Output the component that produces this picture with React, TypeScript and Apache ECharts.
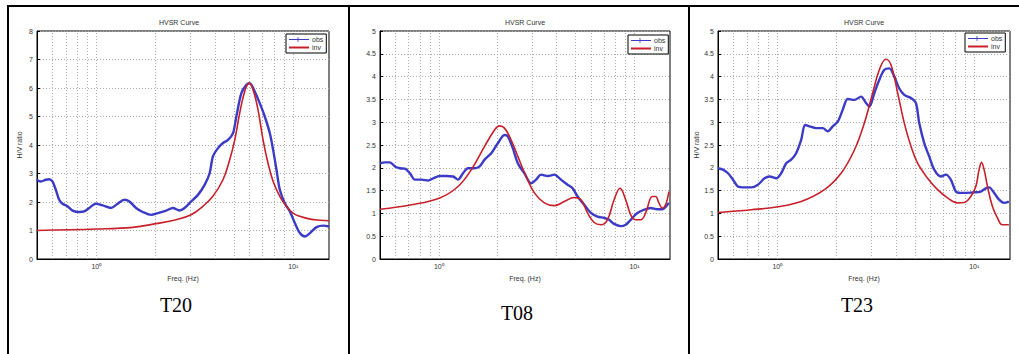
import React, { useEffect, useRef } from "react";
import * as echarts from "echarts";

// ---------- Data (frequency in Hz, H/V ratio) ----------
const T20_OBS_FREQ = [0.497, 0.523, 0.554, 0.576, 0.599, 0.623, 0.648, 0.674, 0.714, 0.758, 0.819, 0.869, 0.921, 0.996, 1.077, 1.188, 1.284, 1.389, 1.473, 1.592, 1.722, 1.898, 2.053, 2.263, 2.447, 2.647, 2.806, 3.035, 3.283, 3.55, 3.764, 3.913, 4.15, 4.401, 4.667, 4.949, 5.145, 5.456, 5.785, 6.017, 6.377, 6.763, 7.172, 7.605, 7.91, 8.225, 8.553, 9.07, 9.616, 10.2, 10.81, 11.47, 12.16, 13.15, 14.22, 15.2];
const T20_OBS_HV = [2.78, 2.72, 2.78, 2.8, 2.72, 2.43, 2.08, 1.94, 1.85, 1.7, 1.65, 1.67, 1.79, 1.94, 1.88, 1.79, 1.94, 2.08, 2.02, 1.79, 1.65, 1.55, 1.61, 1.7, 1.79, 1.7, 1.79, 2.02, 2.25, 2.6, 3.01, 3.6, 3.89, 4.07, 4.18, 4.42, 5.0, 5.82, 6.11, 6.17, 5.88, 5.47, 5.0, 4.42, 3.83, 3.13, 2.43, 1.96, 1.67, 1.26, 0.91, 0.79, 0.91, 1.12, 1.17, 1.14];
const T20_INV_FREQ = [0.5, 1.0, 1.53, 2.01, 2.55, 3.03, 3.48, 3.91, 4.4, 4.76, 5.05, 5.35, 5.67, 5.97, 6.26, 6.63, 7.03, 7.45, 7.91, 8.55, 9.23, 9.98, 10.8, 12.2, 13.7, 15.2];
const T20_INV_HV = [1.0, 1.05, 1.11, 1.24, 1.38, 1.55, 1.85, 2.2, 2.78, 3.48, 4.18, 5.12, 5.88, 6.17, 5.93, 5.23, 4.18, 3.36, 2.72, 2.2, 1.85, 1.61, 1.5, 1.4, 1.36, 1.34];

const T08_OBS_FREQ = [0.5, 0.53, 0.562, 0.596, 0.632, 0.67, 0.711, 0.754, 0.815, 0.882, 0.935, 1.011, 1.093, 1.182, 1.253, 1.329, 1.409, 1.524, 1.616, 1.713, 1.853, 2.003, 2.166, 2.253, 2.388, 2.533, 2.738, 2.961, 3.141, 3.33, 3.601, 3.894, 4.21, 4.553, 4.828, 5.121, 5.537, 5.985, 6.474, 6.998, 7.42, 7.87, 8.51, 9.02, 9.57, 10.35, 11.19, 12.1, 13.08, 13.87, 15.0];
const T08_OBS_HV = [2.1, 2.12, 2.12, 2.03, 1.99, 1.98, 1.88, 1.74, 1.74, 1.72, 1.77, 1.82, 1.82, 1.81, 1.74, 1.88, 1.99, 1.99, 2.03, 2.18, 2.32, 2.54, 2.72, 2.69, 2.43, 2.1, 1.88, 1.66, 1.74, 1.85, 1.82, 1.85, 1.74, 1.63, 1.55, 1.37, 1.19, 1.01, 0.93, 0.9, 0.86, 0.77, 0.72, 0.75, 0.86, 1.01, 1.08, 1.12, 1.09, 1.09, 1.23];
const T08_INV_FREQ = [0.5, 0.725, 1.011, 1.253, 1.466, 1.713, 1.926, 2.042, 2.166, 2.342, 2.533, 2.793, 3.079, 3.463, 3.894, 4.378, 4.922, 5.323, 5.756, 6.224, 6.731, 7.278, 7.87, 8.44, 9.02, 9.57, 10.15, 10.76, 11.41, 12.34, 12.83, 13.34, 13.87, 14.43, 15.0];
const T08_INV_HV = [1.09, 1.19, 1.34, 1.59, 1.96, 2.47, 2.83, 2.92, 2.87, 2.61, 2.25, 1.81, 1.45, 1.23, 1.17, 1.26, 1.35, 1.3, 1.01, 0.8, 0.75, 0.86, 1.3, 1.55, 1.3, 0.97, 0.86, 0.86, 1.01, 1.37, 1.37, 1.23, 1.12, 1.19, 1.48];

const T23_OBS_FREQ = [0.5, 0.53, 0.562, 0.596, 0.631, 0.682, 0.738, 0.797, 0.862, 0.914, 0.988, 1.047, 1.11, 1.177, 1.247, 1.322, 1.385, 1.457, 1.575, 1.702, 1.805, 1.913, 2.028, 2.149, 2.279, 2.464, 2.663, 2.823, 2.935, 3.111, 3.298, 3.497, 3.707, 3.93, 4.165, 4.416, 4.774, 5.06, 5.26, 5.576, 5.91, 6.266, 6.773, 7.179, 7.61, 8.07, 8.55, 9.25, 10.0, 10.8, 11.45, 11.9, 12.62, 13.38, 14.18, 15.0];
const T23_OBS_HV = [1.99, 1.96, 1.88, 1.74, 1.59, 1.57, 1.57, 1.63, 1.77, 1.81, 1.77, 1.88, 2.1, 2.18, 2.32, 2.61, 2.94, 2.91, 2.87, 2.87, 2.8, 2.91, 3.01, 3.27, 3.51, 3.49, 3.56, 3.42, 3.34, 3.64, 3.93, 4.15, 4.18, 4.0, 3.74, 3.6, 3.53, 3.42, 2.98, 2.54, 2.25, 1.96, 1.81, 1.85, 1.74, 1.48, 1.45, 1.45, 1.46, 1.48, 1.55, 1.57, 1.45, 1.3, 1.23, 1.26];
const T23_INV_FREQ = [0.5, 0.738, 0.988, 1.322, 1.736, 2.109, 2.464, 2.768, 3.051, 3.298, 3.565, 3.779, 4.087, 4.416, 4.774, 5.159, 5.798, 6.516, 7.32, 8.227, 8.89, 9.61, 10.19, 10.59, 10.89, 11.23, 11.68, 12.38, 13.12, 13.91, 15.0];
const T23_INV_HV = [1.02, 1.08, 1.14, 1.26, 1.52, 1.88, 2.39, 2.98, 3.64, 4.15, 4.38, 4.26, 3.64, 2.98, 2.47, 2.1, 1.77, 1.52, 1.34, 1.23, 1.24, 1.37, 1.59, 1.96, 2.12, 1.96, 1.59, 1.15, 0.9, 0.75, 0.75];

const PANEL_NAMES = ["T20", "T08", "T23"];
const Y_MAX = [8, 5, 5];
const Y_INTERVAL = [1, 0.5, 0.5];
const MINOR_FREQS = [0.6, 0.7, 0.8, 0.9, 1, 2, 3, 4, 5, 6, 7, 8, 9, 10];
const X_MIN = 0.5;
const X_MAX = 15.2;

const zip = (f: number[], v: number[]) => f.map((x, i) => [x, v[i]]);

const PANELS = [
  { obs: zip(T20_OBS_FREQ, T20_OBS_HV), inv: zip(T20_INV_FREQ, T20_INV_HV) },
  { obs: zip(T08_OBS_FREQ, T08_OBS_HV), inv: zip(T08_INV_FREQ, T08_INV_HV) },
  { obs: zip(T23_OBS_FREQ, T23_OBS_HV), inv: zip(T23_INV_FREQ, T23_INV_HV) },
];

// layout
const GRIDS = [
  { left: 37, top: 31, width: 292, height: 228 },
  { left: 380, top: 31, width: 290, height: 228 },
  { left: 718, top: 31, width: 292, height: 228 },
];
const TITLE_X = [179, 525, 864];
const LEGEND_POS = [
  { left: 286, top: 34 },
  { left: 628, top: 35 },
  { left: 965, top: 33 },
];
const CAPTION_POS = [
  { x: 176, y: 305 },
  { x: 517, y: 313 },
  { x: 857, y: 305 },
];
const SHOW_YNAME = [true, false, true];

const OBS_COLOR = "#3b3bc8";
const INV_COLOR = "#c8202a";
const TXT = "#333";
const FONT = "Arial, Liberation Sans, sans-serif";
// legend icons (20 x 6 box): line with a "+" marker, and a plain thick line
const OBS_ICON = "path://M0,2.6H8.6V0.5H9.4V2.6H20V3.4H9.4V5.5H8.6V3.4H0Z";
const INV_ICON = "path://M0,2H20V4H0Z";

export default function App() {
  const ref = useRef<HTMLDivElement>(null);
  useEffect(() => {
    if (!ref.current) return;
    const chart = echarts.init(ref.current, null, { renderer: "svg" });

    const xAxis: any[] = [];
    const yAxis: any[] = [];
    const series: any[] = [];
    const legend: any[] = [];
    const title: any[] = [];
    const graphic: any[] = [];

    PANELS.forEach((p, i) => {
      xAxis.push({
        type: "log",
        logBase: 10,
        gridIndex: i,
        min: X_MIN,
        max: X_MAX,
        name: "Freq. (Hz)",
        nameLocation: "middle",
        nameGap: 13,
        nameTextStyle: { fontSize: 7, color: TXT, fontFamily: FONT },
        axisLine: { show: true, onZero: false, lineStyle: { color: "#000", width: 1 } },
        axisTick: { show: false },
        axisLabel: {
          fontSize: 7,
          color: TXT,
          margin: 4,
          fontFamily: FONT,
          formatter: (v: number) => (Math.abs(v - 1) < 1e-6 ? "10⁰" : Math.abs(v - 10) < 1e-6 ? "10¹" : ""),
        },
        splitLine: { show: false },
      });
      yAxis.push({
        type: "value",
        gridIndex: i,
        min: 0,
        max: Y_MAX[i],
        interval: Y_INTERVAL[i],
        name: SHOW_YNAME[i] ? "H/V ratio" : "",
        nameLocation: "middle",
        nameRotate: 90,
        nameGap: 14,
        nameTextStyle: { fontSize: 7, color: TXT, fontFamily: FONT },
        axisLine: { show: true, lineStyle: { color: "#000", width: 1 } },
        axisTick: { show: true, inside: true, length: 3, lineStyle: { color: "#000" } },
        axisLabel: { fontSize: 7, color: TXT, margin: 4, fontFamily: FONT },
        splitLine: { show: true, lineStyle: { type: [1, 2], color: "#aaa", width: 1 } },
      });
      series.push({
        name: "obs",
        type: "line",
        xAxisIndex: i,
        yAxisIndex: i,
        data: p.obs,
        smooth: 0.3,
        symbol: "none",
        lineStyle: { color: OBS_COLOR, width: 2.4 },
        itemStyle: { color: OBS_COLOR },
        z: 3,
        markLine: {
          silent: true,
          symbol: "none",
          label: { show: false },
          lineStyle: { type: [1, 2], color: "#aaa", width: 1 },
          data: MINOR_FREQS.map((f) => ({ xAxis: f })),
          z: 1,
        },
      });
      series.push({
        name: "inv",
        type: "line",
        xAxisIndex: i,
        yAxisIndex: i,
        data: p.inv,
        smooth: 0.4,
        symbol: "none",
        lineStyle: { color: INV_COLOR, width: 1.6 },
        itemStyle: { color: INV_COLOR },
        z: 4,
      });
      legend.push({
        data: [
          { name: "obs", icon: OBS_ICON, itemStyle: { color: OBS_COLOR } },
          { name: "inv", icon: INV_ICON, itemStyle: { color: INV_COLOR } },
        ],
        orient: "vertical",
        left: LEGEND_POS[i].left,
        top: LEGEND_POS[i].top,
        itemWidth: 20,
        itemHeight: 6,
        itemGap: 1,
        padding: [2, 3, 2, 3],
        backgroundColor: "#fff",
        borderColor: "#000",
        borderWidth: 1,
        borderRadius: 0,
        selectedMode: false,
        textStyle: { fontSize: 7, color: TXT, padding: [0, 0, 0, -2], fontFamily: FONT },
      });
      title.push({
        text: "HVSR Curve",
        left: TITLE_X[i],
        top: 19,
        textAlign: "center",
        padding: 0,
        textStyle: { fontSize: 7, fontWeight: "normal", color: TXT, fontFamily: FONT },
      });
      graphic.push({
        type: "text",
        x: CAPTION_POS[i].x,
        y: CAPTION_POS[i].y,
        style: {
          text: PANEL_NAMES[i],
          fontSize: 20,
          fontFamily: "Liberation Serif, Times New Roman, serif",
          fill: "#000",
          align: "center",
          verticalAlign: "middle",
        },
      });
    });

    // table borders
    const B = { stroke: "#000", lineWidth: 2 };
    graphic.push({ type: "line", shape: { x1: 7, y1: 6, x2: 1019, y2: 6 }, style: B });
    graphic.push({ type: "line", shape: { x1: 8, y1: 5, x2: 8, y2: 354 }, style: B });
    graphic.push({ type: "line", shape: { x1: 349, y1: 5, x2: 349, y2: 354 }, style: B });
    graphic.push({ type: "line", shape: { x1: 689, y1: 5, x2: 689, y2: 354 }, style: B });

    chart.setOption({
      animation: false,
      backgroundColor: "#fff",
      title,
      legend,
      grid: GRIDS.map((g) => ({ ...g, show: true, borderColor: "#000", borderWidth: 1, backgroundColor: "transparent" })),
      xAxis,
      yAxis,
      series,
      graphic,
    });
    return () => chart.dispose();
  }, []);
  return <div ref={ref} style={{ position: "absolute", left: 0, top: 0, width: 1019, height: 354 }} />;
}
